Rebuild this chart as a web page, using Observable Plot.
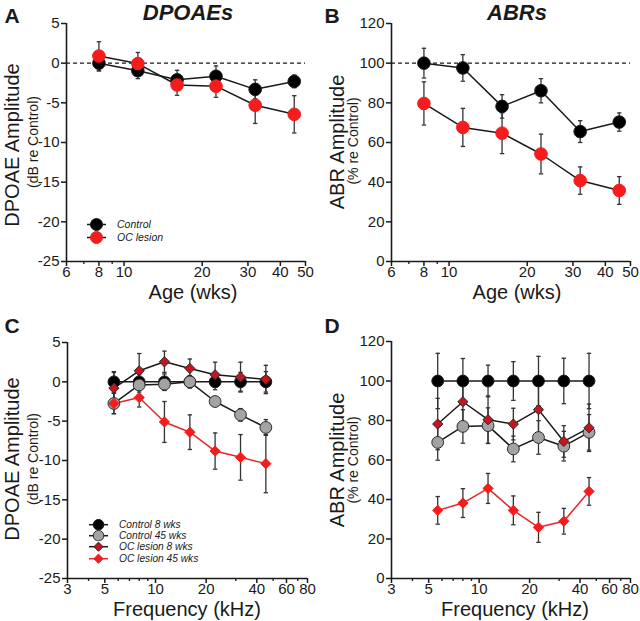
<!DOCTYPE html>
<html><head><meta charset="utf-8">
<script src="https://cdn.jsdelivr.net/npm/d3@7"></script>
<script src="https://cdn.jsdelivr.net/npm/@observablehq/plot@0.6"></script>
<style>
body{margin:0;background:#fff;font-family:"Liberation Sans",Arial,Helvetica,sans-serif;}
#root{position:relative;width:640px;height:621px;overflow:hidden;background:#fff;}
.panel{position:absolute;}
.lbl{position:absolute;white-space:nowrap;transform:translate(-50%,-50%);color:#1a1a1a;line-height:1;}
.rot{transform:translate(-50%,-50%) rotate(-90deg);}
.legend{position:absolute;font-style:italic;color:#1a1a1a;}
.legend .row{display:flex;align-items:center;}
.legend svg{display:block;}
</style></head><body><div id="root"></div>
<script>
// ---------- data ----------
const ageWeeks = [8, 11.3, 16, 22.6, 32, 45.25];
const dpoaeControl = [0, -0.95, -2.1, -1.65, -3.3, -2.3];
const dpoaeControlErr = [1.0, 1.0, 1.2, 1.3, 1.2, 0.8];
const dpoaeLesion = [0.9, -0.05, -2.75, -2.9, -5.3, -6.45];
const dpoaeLesionErr = [1.8, 1.4, 1.3, 1.4, 2.3, 2.35];
const abrControl = [100, 97.6, 78.2, 86.1, 65.5, 70.3];
const abrControlErr = [7.5, 6.7, 5.9, 6.1, 5.5, 4.6];
const abrLesion = [79.7, 67.6, 64.7, 54.2, 40.8, 35.8];
const abrLesionErr = [10.9, 9.6, 10.3, 10, 6.9, 7];

const freqKHz = [5.66, 8, 11.3, 16, 22.6, 32, 45.25];
const dpC8 = [0, 0, 0, 0, 0, 0, 0];
const dpC8Err = [1.3, 0.9, 1.0, 0.8, 1.0, 1.2, 1.3];
const dpC45 = [-2.75, -0.4, -0.3, 0, -2.5, -4.2, -5.8];
const dpC45Err = [1.3, 0.9, 0.8, 0.7, 0.6, 0.8, 1.0];
const dpL8 = [-0.8, 1.4, 2.55, 1.7, 0.9, 0.6, 0.3];
const dpL8Err = [2.0, 2.2, 1.35, 1.2, 1.6, 1.9, 1.8];
const dpL45 = [-2.75, -2.0, -5.1, -6.4, -8.8, -9.6, -10.4];
const dpL45Err = [1.3, 1.2, 2.6, 2.2, 2.3, 2.9, 3.7];

const abC8 = [100, 100, 100, 100, 100, 100, 100];
const abC8Err = [14, 11.4, 8, 9.8, 12.5, 11.5, 14];
const abC45 = [68.9, 77, 77.4, 65.6, 71.4, 67, 74];
const abC45Err = [9, 8.5, 9, 6.5, 8.5, 7.5, 9];
const abL8 = [78.2, 89.5, 80.4, 78.2, 85.5, 69.4, 76.3];
const abL8Err = [13, 11, 12, 8, 12, 8, 12];
const abL45 = [34.5, 38.2, 45.6, 34.5, 25.9, 29, 44.1];
const abL45Err = [7, 7.3, 7.6, 7.3, 7.6, 6.5, 7];

const ageTicks = [6, 8, 10, 20, 30, 40, 50];
const ageMinor = [7, 9];
const freqTicks = [3, 5, 10, 20, 40, 60, 80];
const freqMinor = [4, 6, 7, 8, 9, 30, 50, 70];
const dbTicks = [5, 0, -5, -10, -15, -20, -25];
const pctTicks = [0, 20, 40, 60, 80, 100, 120];
const dbRef = [0];
const pctRef = [100];

// ---------- helpers ----------
const INK = "#1a1a1a";
const ERR = "#333";
const RED = "#f41c1c";
const DRED = "#c8141e";
const GRAY = "#a3a3a3";

function capSym(hw) { return {draw(ctx) { ctx.moveTo(-hw, 0); ctx.lineTo(hw, 0); }}; }
const cap = capSym(2.2);

function rowsOf(xs, ys, es) { return xs.map((x, i) => ({x, y: ys[i], e: es[i]})); }

function panel(cfg) {
  const marks = [];
  if (cfg.ref) marks.push(Plot.ruleY(cfg.ref, {stroke: INK, strokeWidth: 1.2, strokeDasharray: "4,3"}));
  marks.push(Plot.axisX(cfg.xMinor, {tickSize: 3, text: () => "", stroke: INK, strokeWidth: 1.3, label: null}));
  marks.push(Plot.axisX(cfg.xTicks, {tickSize: 5, tickPadding: 0, text: d => String(d), fontSize: 15, stroke: INK, strokeWidth: 1.5, fill: INK, label: null}));
  marks.push(Plot.axisY(cfg.yTicks, {tickSize: 5, tickPadding: 2, text: d => String(d), fontSize: 15, stroke: INK, strokeWidth: 1.5, fill: INK, label: null}));
  marks.push(Plot.ruleX([cfg.xDomain[0]], {stroke: INK, strokeWidth: 1.6}));
  marks.push(Plot.ruleY([cfg.yDomain[0]], {stroke: INK, strokeWidth: 1.6}));
  for (const s of cfg.series) {
    const rows = rowsOf(s.x, s.y, s.e);
    marks.push(Plot.line(rows, {x: "x", y: "y", stroke: s.line, strokeWidth: 1.5}));
    marks.push(Plot.ruleX(rows, {x: "x", y1: d => d.y - d.e, y2: d => d.y + d.e, stroke: ERR, strokeWidth: 1.3}));
    marks.push(Plot.dot(rows, {x: "x", y: d => d.y + d.e, symbol: cap, r: 2, stroke: ERR, fill: "none", strokeWidth: 1.3}));
    marks.push(Plot.dot(rows, {x: "x", y: d => d.y - d.e, symbol: cap, r: 2, stroke: ERR, fill: "none", strokeWidth: 1.3}));
  }
  for (const s of cfg.series) {
    const rows = rowsOf(s.x, s.y, s.e);
    marks.push(Plot.dot(rows, {x: "x", y: "y", r: s.r, symbol: s.symbol, fill: s.fill, stroke: s.stroke, strokeWidth: 1}));
  }
  return Plot.plot({
    width: 320, height: cfg.h,
    marginLeft: cfg.ml, marginRight: cfg.mr, marginTop: cfg.mt, marginBottom: cfg.mb,
    x: {type: "log", domain: cfg.xDomain, label: null, axis: null},
    y: {type: "linear", domain: cfg.yDomain, label: null, axis: null},
    style: {fontFamily: '"Liberation Sans", Arial, sans-serif', fontSize: "15px", color: INK, background: "transparent", overflow: "visible"},
    marks
  });
}

const root = document.getElementById("root");
function place(el, left, top) {
  const d = document.createElement("div");
  d.className = "panel"; d.style.left = left + "px"; d.style.top = top + "px";
  d.appendChild(el); root.appendChild(d);
}
function label(text, x, y, size, opts = {}) {
  const d = document.createElement("div");
  d.className = "lbl" + (opts.rot ? " rot" : "");
  d.textContent = text;
  d.style.left = x + "px"; d.style.top = y + "px"; d.style.fontSize = size + "px";
  if (opts.bold) d.style.fontWeight = "bold";
  if (opts.italic) d.style.fontStyle = "italic";
  root.appendChild(d);
}
function markerSvg(m, w, h) {
  const cy = h / 2, cx = w / 2;
  let mk;
  if (m.symbol === "circle") mk = `<circle cx="${cx}" cy="${cy}" r="${m.lr}" fill="${m.fill}" stroke="${m.stroke}" stroke-width="1"/>`;
  else { const r = m.lr; mk = `<polygon points="${cx},${cy - r} ${cx + r},${cy} ${cx},${cy + r} ${cx - r},${cy}" fill="${m.fill}" stroke="${m.stroke}" stroke-width="1"/>`; }
  return `<svg width="${w}" height="${h}"><line x1="1" x2="${w - 1}" y1="${cy}" y2="${cy}" stroke="${m.line}" stroke-width="1.5"/>${mk}</svg>`;
}
function legend(items, left, top, rowH, fontSize, gap) {
  const d = document.createElement("div");
  d.className = "legend"; d.style.left = left + "px"; d.style.top = top + "px"; d.style.fontSize = fontSize + "px";
  d.innerHTML = items.map(m => `<div class="row" style="height:${rowH}px">${markerSvg(m, 21, rowH)}<span style="margin-left:${gap}px">${m.name}</span></div>`).join("");
  root.appendChild(d);
}

// ---------- series definitions ----------
const sA = [
  {name: "Control", x: ageWeeks, y: dpoaeControl, e: dpoaeControlErr, line: INK, fill: "#000", stroke: INK, r: 6.3, symbol: "circle", lr: 6},
  {name: "OC lesion", x: ageWeeks, y: dpoaeLesion, e: dpoaeLesionErr, line: INK, fill: RED, stroke: RED, r: 6.3, symbol: "circle", lr: 6}
];
const sB = [
  {x: ageWeeks, y: abrControl, e: abrControlErr, line: INK, fill: "#000", stroke: INK, r: 6.3, symbol: "circle"},
  {x: ageWeeks, y: abrLesion, e: abrLesionErr, line: INK, fill: RED, stroke: RED, r: 6.3, symbol: "circle"}
];
const sC = [
  {name: "Control 8 wks", x: freqKHz, y: dpC8, e: dpC8Err, line: INK, fill: "#000", stroke: INK, r: 5.9, symbol: "circle", lr: 5.3},
  {name: "Control 45 wks", x: freqKHz, y: dpC45, e: dpC45Err, line: INK, fill: GRAY, stroke: "#2a2a2a", r: 5.9, symbol: "circle", lr: 5.3},
  {name: "OC lesion 8 wks", x: freqKHz, y: dpL8, e: dpL8Err, line: INK, fill: DRED, stroke: "#2a2a2a", r: 4.6, symbol: "diamond2", lr: 4.6},
  {name: "OC lesion 45 wks", x: freqKHz, y: dpL45, e: dpL45Err, line: "#e3262b", fill: RED, stroke: RED, r: 4.6, symbol: "diamond2", lr: 4.6}
];
const sD = [
  {x: freqKHz, y: abC8, e: abC8Err, line: INK, fill: "#000", stroke: INK, r: 5.9, symbol: "circle"},
  {x: freqKHz, y: abC45, e: abC45Err, line: INK, fill: GRAY, stroke: "#2a2a2a", r: 5.9, symbol: "circle"},
  {x: freqKHz, y: abL8, e: abL8Err, line: INK, fill: DRED, stroke: "#2a2a2a", r: 4.6, symbol: "diamond2"},
  {x: freqKHz, y: abL45, e: abL45Err, line: "#e3262b", fill: RED, stroke: RED, r: 4.6, symbol: "diamond2"}
];

// ---------- panels ----------
place(panel({xDomain: [6, 50], yDomain: [-25, 5], xTicks: ageTicks, xMinor: ageMinor, yTicks: dbTicks, ref: dbRef, series: sA, ml: 66, mr: 15, mt: 23, mb: 49, h: 310}), 0, 0);
place(panel({xDomain: [6, 50], yDomain: [0, 120], xTicks: ageTicks, xMinor: ageMinor, yTicks: pctTicks, ref: pctRef, series: sB, ml: 71, mr: 10, mt: 23, mb: 49, h: 310}), 320, 0);
place(panel({xDomain: [3, 80], yDomain: [-25, 5], xTicks: freqTicks, xMinor: freqMinor, yTicks: dbTicks, ref: null, series: sC, ml: 67, mr: 13, mt: 32, mb: 43, h: 311}), 0, 310);
place(panel({xDomain: [3, 80], yDomain: [0, 120], xTicks: freqTicks, xMinor: freqMinor, yTicks: pctTicks, ref: null, series: sD, ml: 71, mr: 10, mt: 31, mb: 43, h: 311}), 320, 310);

// ---------- text ----------
label("A", 12, 15, 21, {bold: true});
label("B", 332, 15, 21, {bold: true});
label("C", 12, 325, 21, {bold: true});
label("D", 332, 325, 21, {bold: true});
label("DPOAEs", 188, 13, 22, {bold: true, italic: true});
label("ABRs", 517, 13, 22, {bold: true, italic: true});
label("Age (wks)", 193, 292, 20);
label("Age (wks)", 517, 292, 20);
label("Frequency (kHz)", 187, 609, 20);
label("Frequency (kHz)", 515, 609, 20);
label("DPOAE Amplitude", 12, 145, 20, {rot: true});
label("(dB re Control)", 33, 142, 14, {rot: true});
label("ABR Amplitude", 337, 142, 20, {rot: true});
label("(% re Control)", 353, 141, 14, {rot: true});
label("DPOAE Amplitude", 12, 459, 20, {rot: true});
label("(dB re Control)", 33, 459, 14, {rot: true});
label("ABR Amplitude", 337, 460, 20, {rot: true});
label("(% re Control)", 353, 460, 14, {rot: true});

// ---------- legends ----------
legend(sA, 86, 217.5, 13, 10.5, 10);
legend(sC, 88, 518.5, 11.4, 10.2, 10);
</script></body></html>
